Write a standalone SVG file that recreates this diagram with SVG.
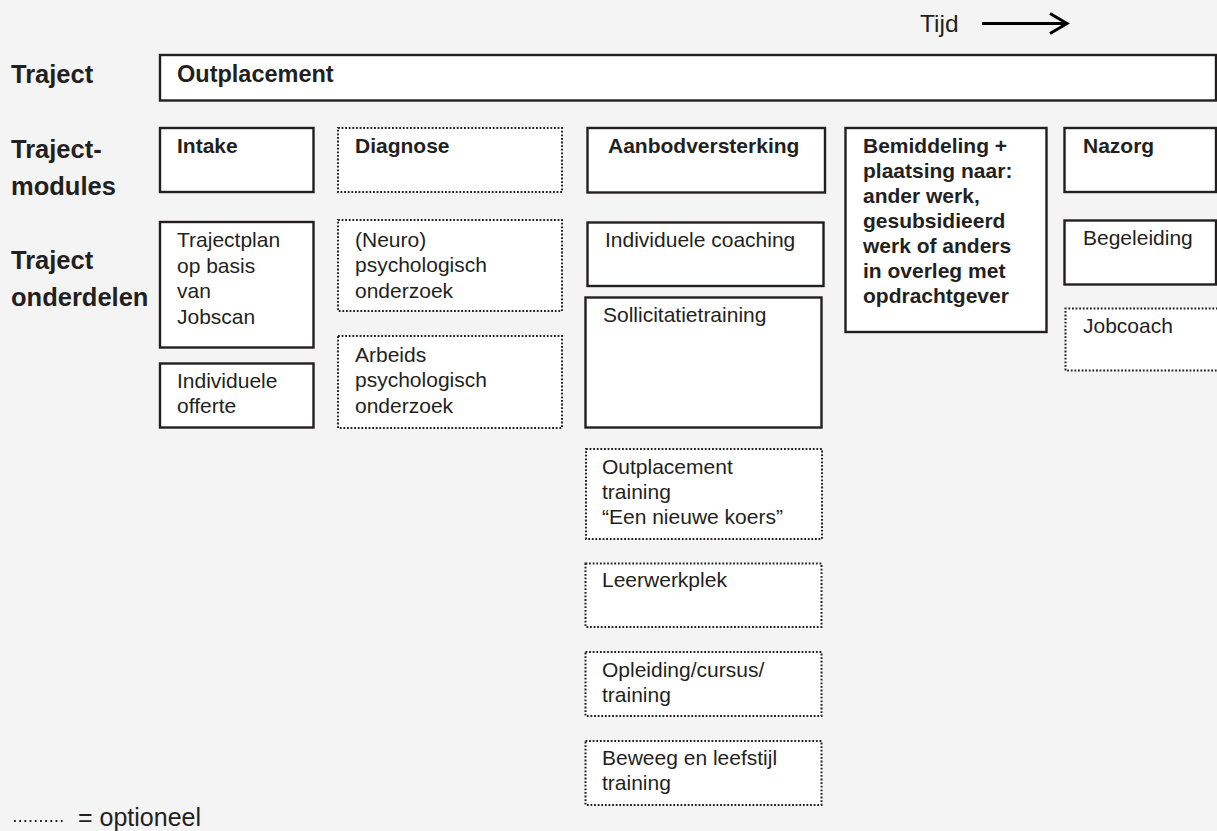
<svg xmlns="http://www.w3.org/2000/svg" width="1217" height="831" viewBox="0 0 1217 831">
<defs>
<style>
text{font-family:"Liberation Sans",Arial,Helvetica,sans-serif;fill:#231f20;}
.lbl{font-size:25.5px;font-weight:bold;}
.b{font-size:21px;font-weight:bold;}
.r{font-size:21px;}
.solid{fill:#ffffff;stroke:#231f20;stroke-width:2.4;}
.dot{fill:#ffffff;stroke:#231f20;stroke-width:2;stroke-dasharray:1.8 1.8;}
</style>
</defs>
<rect x="0" y="0" width="1217" height="831" fill="#f4f4f4"/>

<g id="time-axis">
<text x="920" y="32" style="font-size:24.5px">Tijd</text>
</g>
<g id="connectors">
<line x1="982" y1="23.5" x2="1067" y2="23.5" stroke="#000" stroke-width="2.8"/>
<polyline points="1050,13.5 1067,23.5 1050,33.5" fill="none" stroke="#000" stroke-width="3" stroke-linejoin="miter"/>
</g>

<g id="row-labels">
<text class="lbl" x="11" y="83">Traject</text>
<text class="lbl" x="11" y="158">Traject-</text>
<text class="lbl" x="11" y="195">modules</text>
<text class="lbl" x="11" y="269">Traject</text>
<text class="lbl" x="11" y="306">onderdelen</text>
</g>

<g id="outplacement">
<rect class="solid" x="160" y="55" width="1056" height="45.5"/>
<text x="177" y="82" style="font-size:23.5px;font-weight:bold">Outplacement</text>
</g>

<g id="intake">
<rect class="solid" x="160" y="128" width="153.5" height="64"/>
<text class="b" x="177" y="153">Intake</text>
</g>
<g id="diagnose">
<rect class="dot" x="338" y="128" width="224" height="64"/>
<text class="b" x="355" y="153">Diagnose</text>
</g>
<g id="aanbodversterking">
<rect class="solid" x="587.5" y="128" width="237.5" height="64.5"/>
<text class="b" x="608" y="153">Aanbodversterking</text>
</g>
<g id="bemiddeling">
<rect class="solid" x="845.5" y="128" width="201" height="204"/>
<text class="b" x="863" y="153">Bemiddeling +</text>
<text class="b" x="863" y="178">plaatsing naar:</text>
<text class="b" x="863" y="203">ander werk,</text>
<text class="b" x="863" y="228">gesubsidieerd</text>
<text class="b" x="863" y="253">werk of anders</text>
<text class="b" x="863" y="278">in overleg met</text>
<text class="b" x="863" y="303">opdrachtgever</text>
</g>
<g id="nazorg">
<rect class="solid" x="1064.5" y="128" width="151.5" height="64"/>
<text class="b" x="1083" y="153">Nazorg</text>
</g>

<g id="trajectplan">
<rect class="solid" x="160" y="222" width="153.5" height="125.5"/>
<text class="r" x="177" y="247">Trajectplan</text>
<text class="r" x="177" y="272.5">op basis</text>
<text class="r" x="177" y="298">van</text>
<text class="r" x="177" y="323.5">Jobscan</text>
</g>
<g id="offerte">
<rect class="solid" x="160" y="363.5" width="153.5" height="64"/>
<text class="r" x="177" y="388">Individuele</text>
<text class="r" x="177" y="413">offerte</text>
</g>
<g id="neuro">
<rect class="dot" x="338" y="220" width="224" height="91"/>
<text class="r" x="355" y="247">(Neuro)</text>
<text class="r" x="355" y="272">psychologisch</text>
<text class="r" x="355" y="297.5">onderzoek</text>
</g>
<g id="arbeids">
<rect class="dot" x="338" y="336" width="224" height="92"/>
<text class="r" x="355" y="362">Arbeids</text>
<text class="r" x="355" y="387">psychologisch</text>
<text class="r" x="355" y="413">onderzoek</text>
</g>

<g id="coaching">
<rect class="solid" x="587.5" y="222.5" width="236" height="63.5"/>
<text class="r" x="605" y="247">Individuele coaching</text>
</g>
<g id="sollicitatie">
<rect class="solid" x="585.5" y="297.5" width="236" height="130"/>
<text class="r" x="603" y="322">Sollicitatietraining</text>
</g>
<g id="outplacement-training">
<rect class="dot" x="586" y="449" width="236" height="90"/>
<text class="r" x="602" y="474">Outplacement</text>
<text class="r" x="602" y="499">training</text>
<text class="r" x="602" y="524">“Een nieuwe koers”</text>
</g>
<g id="leerwerkplek">
<rect class="dot" x="585.5" y="563.5" width="236" height="63.5"/>
<text class="r" x="602" y="587">Leerwerkplek</text>
</g>
<g id="opleiding">
<rect class="dot" x="585.5" y="652" width="236" height="64"/>
<text class="r" x="602" y="677">Opleiding/cursus/</text>
<text class="r" x="602" y="702">training</text>
</g>
<g id="beweeg">
<rect class="dot" x="585.5" y="741" width="236" height="64"/>
<text class="r" x="602" y="765">Beweeg en leefstijl</text>
<text class="r" x="602" y="790">training</text>
</g>

<g id="begeleiding">
<rect class="solid" x="1064.5" y="220.5" width="151.5" height="64"/>
<text class="r" x="1083" y="245">Begeleiding</text>
</g>
<g id="jobcoach">
<rect x="1065.5" y="308.5" width="160" height="62" fill="#ffffff"/>
<path class="dot" d="M1225,308.5 H1065.5 V370.5 H1225" fill="none"/>
<text class="r" x="1083" y="333">Jobcoach</text>
</g>

<g id="legend">
<line x1="14" y1="821" x2="63" y2="821" stroke="#231f20" stroke-width="2" stroke-dasharray="1.8 3.4"/>
<text x="78" y="826" style="font-size:25px">= optioneel</text>
</g>
</svg>
